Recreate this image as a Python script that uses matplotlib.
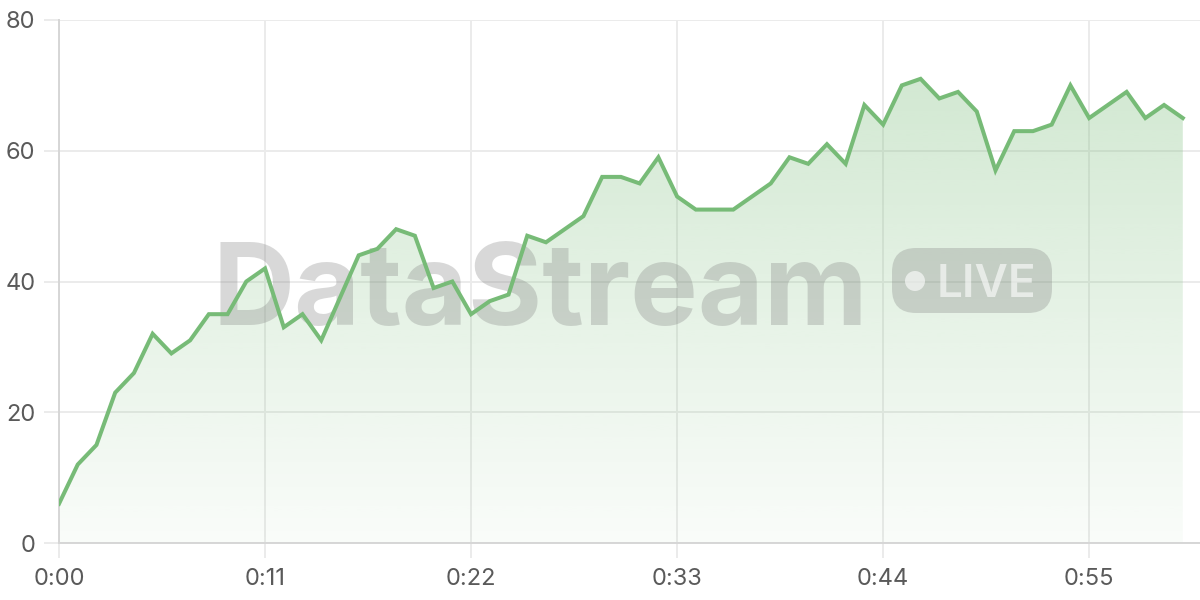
import numpy as np
import matplotlib
matplotlib.use("Agg")
import matplotlib.pyplot as plt
from matplotlib.patches import FancyBboxPatch, Circle

# ---- data ----
seconds = list(range(0, 61))
values = [6, 12, 15, 23, 26, 32, 29, 31, 35, 35, 40, 42, 33, 35, 31, 37.5, 44, 45, 48, 47,
          39, 40, 35, 37, 38, 47, 46, 48, 50, 56, 56, 55, 59, 53, 51, 51, 51, 53, 55, 59,
          58, 61, 58, 67, 64, 70, 71, 68, 69, 66, 57, 63, 63, 64, 70, 65, 67, 69, 65, 67, 65]
x_ticks = [0, 11, 22, 33, 44, 55]
x_tick_labels = ["0:00", "0:11", "0:22", "0:33", "0:44", "0:55"]
y_ticks = [0, 20, 40, 60, 80]
watermark = "DataStream"
badge_text = "LIVE"

plt.rcParams['font.family'] = ['Inter', 'DejaVu Sans']

W, H = 1200, 600
fig = plt.figure(figsize=(W / 100, H / 100), dpi=100)
ax = fig.add_axes([59 / W, 57 / H, (W - 59) / W, 523 / H])

line_color = "#77bb77"
grid_color = "#ebebeb"

x = np.array(seconds, dtype=float)
y = np.array(values, dtype=float)

# gradient fill
fill = ax.fill_between(x, y, 0, facecolor="none", edgecolor="none")
ymax = y.max()
grad = np.linspace(0.04, 0.33, 256).reshape(-1, 1)
rgba = np.zeros((256, 1, 4))
rgba[..., 0] = 0x77 / 255
rgba[..., 1] = 0xbb / 255
rgba[..., 2] = 0x77 / 255
rgba[..., 3] = grad
im = ax.imshow(rgba, extent=[x.min(), x.max(), 0, ymax], origin="lower",
               aspect="auto", interpolation="bilinear", zorder=1)
paths = fill.get_paths()
im.set_clip_path(paths[0], transform=ax.transData)

ax.plot(x, y, color=line_color, lw=2.9, solid_joinstyle="miter", zorder=4)

ax.set_xlim(0, (W - 59) / 18.73)
ax.set_ylim(0, 80)
ax.set_xticks(x_ticks)
ax.set_xticklabels(x_tick_labels)
ax.set_yticks(y_ticks)
ax.grid(True, color=grid_color, lw=1.4, zorder=0)
ax.set_axisbelow(True)
for s in ["top", "right"]:
    ax.spines[s].set_visible(False)
for s in ["left", "bottom"]:
    ax.spines[s].set_color("#d6d6d6")
    ax.spines[s].set_linewidth(1.4)
ax.tick_params(axis="both", length=11, width=1.4, color=grid_color,
               labelsize=17, labelcolor="#5a5a5a")
ax.tick_params(axis="x", pad=7)
ax.tick_params(axis="y", pad=6)

# watermark (in pixel/inch coordinates)
tr = fig.dpi_scale_trans
wm_alpha = 0.3
t = ax.text(540 / 100, (H - 325) / 100, watermark, transform=tr, ha="center",
            va="baseline", fontsize=90, fontweight="bold", color="#808080",
            alpha=wm_alpha, zorder=3)
fig.canvas.draw()
bb = t.get_window_extent()
t.set_fontsize(90 * 656 / bb.width)

bx0, bx1, by0, by1 = 892, 1052, H - 313, H - 248
badge = FancyBboxPatch((bx0 / 100, by0 / 100), (bx1 - bx0) / 100, (by1 - by0) / 100,
                       boxstyle="round,pad=0,rounding_size=0.24", transform=tr,
                       facecolor="#808080", edgecolor="none", alpha=wm_alpha, zorder=3)
ax.add_patch(badge)
dot = Circle((915 / 100, (H - 281) / 100), 0.10, transform=tr, facecolor="white",
             edgecolor="none", alpha=0.6, zorder=3.1)
ax.add_patch(dot)
ax.text(937 / 100, (H - 297) / 100, badge_text, transform=tr, ha="left", va="baseline",
        fontsize=33, fontweight="semibold", color="white", alpha=0.6, zorder=3.1)

ax.set_xlim(0, (W - 59) / 18.73)
ax.set_ylim(0, 80)

fig.savefig("out.png", dpi=100)
